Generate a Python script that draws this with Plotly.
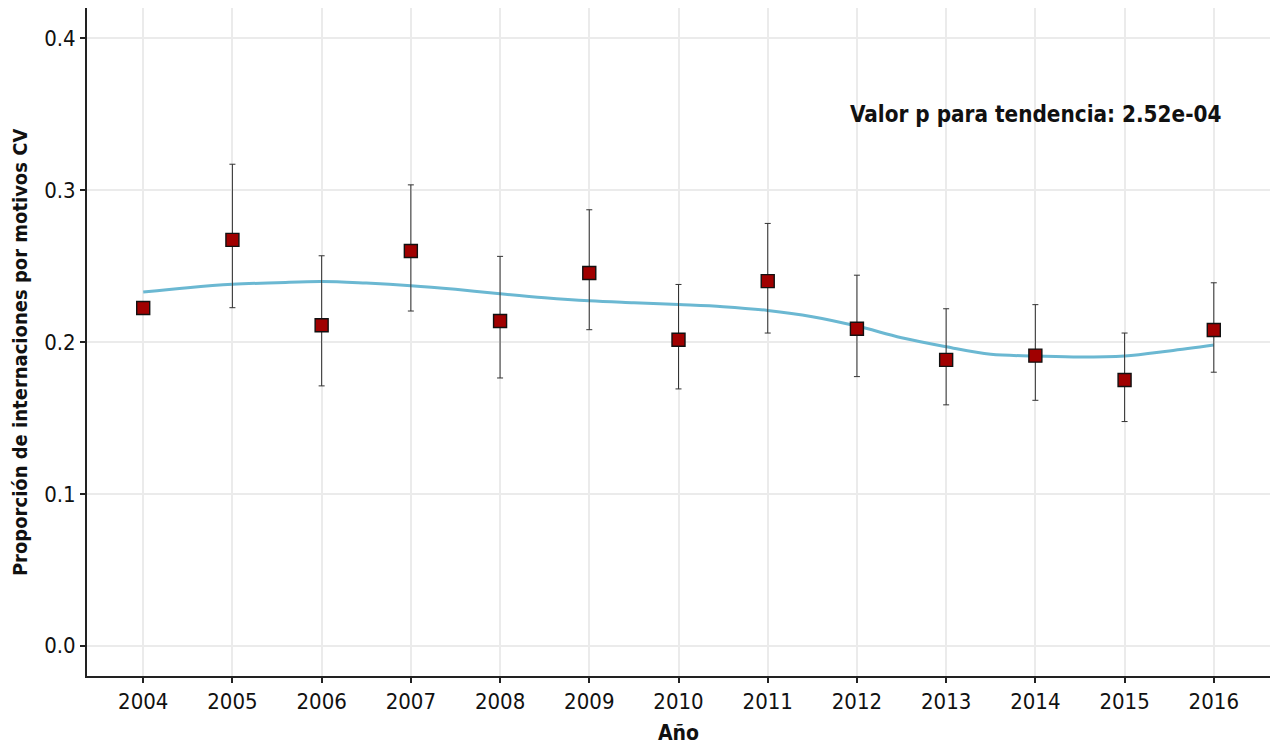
import plotly.graph_objects as go

# Annual proportion of CV admissions with confidence limits
years = [2004, 2005, 2006, 2007, 2008, 2009, 2010, 2011, 2012, 2013, 2014, 2015, 2016]
proportion = [0.2224, 0.2673, 0.2110, 0.2599, 0.2138, 0.2454, 0.2015, 0.2401, 0.2087, 0.1882, 0.1910, 0.1750, 0.2079]
ci_upper = [None, 0.3171, 0.2568, 0.3035, 0.2564, 0.2871, 0.2379, 0.2781, 0.2440, 0.2219, 0.2246, 0.2059, 0.2390]
ci_lower = [None, 0.2226, 0.1711, 0.2204, 0.1763, 0.2081, 0.1691, 0.2059, 0.1772, 0.1586, 0.1616, 0.1476, 0.1801]

# Smoothed trend curve
trend_x = [2004, 2004.5, 2005, 2005.5, 2006, 2006.5, 2007, 2007.5, 2008, 2008.5, 2009, 2009.5,
           2010, 2010.5, 2011, 2011.5, 2012, 2012.5, 2013, 2013.5, 2014, 2014.5, 2015, 2015.5, 2016]
trend_y = [0.2329, 0.2358, 0.2380, 0.2391, 0.2399, 0.2388, 0.2371, 0.2347, 0.2318, 0.2292, 0.2272, 0.2259,
           0.2247, 0.2233, 0.2208, 0.2167, 0.2105, 0.2028, 0.1969, 0.1919, 0.1908, 0.1901, 0.1908, 0.1941, 0.1980]

y_ticks = [0.0, 0.1, 0.2, 0.3, 0.4]
p_label = "Valor p para tendencia: 2.52e-04"
y_title = "Proporción de internaciones por motivos CV"
x_title = "Año"

err_plus = [None if u is None else u - p for u, p in zip(ci_upper, proportion)]
err_minus = [None if l is None else p - l for l, p in zip(ci_lower, proportion)]

FONT = "DejaVu Sans Condensed"

fig = go.Figure()

fig.add_trace(go.Scatter(
    x=trend_x, y=trend_y, mode="lines", line=dict(color="#6BB8D2", width=3, shape="spline"),
    hoverinfo="skip", showlegend=False,
))

fig.add_trace(go.Scatter(
    x=years, y=proportion, mode="markers",
    marker=dict(symbol="square", size=13, color="#A00000", line=dict(color="#111111", width=1.4)),
    error_y=dict(type="data", symmetric=False, array=err_plus, arrayminus=err_minus,
                 color="#333333", thickness=1, width=3),
    showlegend=False,
))

fig.add_annotation(
    x=2014, y=0.35, xref="x", yref="y", text=p_label, showarrow=False,
    font=dict(family=FONT, size=22.3, color="#111111", weight="bold"),
    xanchor="center", yanchor="middle",
)

# Vertical y-axis title, placed as an annotation
fig.add_annotation(
    x=-0.0566, y=0.4835, xref="paper", yref="paper", text=f"<b>{y_title}</b>",
    showarrow=False, textangle=-90, xanchor="center", yanchor="middle",
    font=dict(family=FONT, size=20, color="#111111"),
)

fig.update_layout(
    width=1279, height=746,
    margin=dict(l=87, r=9, t=8, b=70),
    plot_bgcolor="white", paper_bgcolor="white",
    font=dict(family=FONT, color="#111111"),
)

fig.update_xaxes(
    range=[2003.37, 2016.63], tickmode="array", tickvals=years, ticktext=[str(y) for y in years],
    automargin=False,
    showgrid=True, gridcolor="#EBEBEB", gridwidth=2,
    showline=True, linecolor="#222222", linewidth=2,
    ticks="outside", ticklen=5, tickcolor="#222222", tickwidth=1.5,
    tickfont=dict(size=22, family=FONT, color="#111111"),
    title=dict(text=f"<b>{x_title}</b>", font=dict(size=21, family=FONT, color="#111111"), standoff=12),
    zeroline=False,
)

fig.update_yaxes(
    range=[-0.02, 0.42], tickmode="array", tickvals=y_ticks, ticktext=[f"{v:.1f}" for v in y_ticks],
    automargin=False,
    showgrid=True, gridcolor="#EBEBEB", gridwidth=2,
    showline=True, linecolor="#222222", linewidth=2,
    ticks="outside", ticklen=5, tickcolor="#222222", tickwidth=1.5,
    tickfont=dict(size=22, family=FONT, color="#111111"),
    zeroline=False,
)

fig.write_html("out.html")
